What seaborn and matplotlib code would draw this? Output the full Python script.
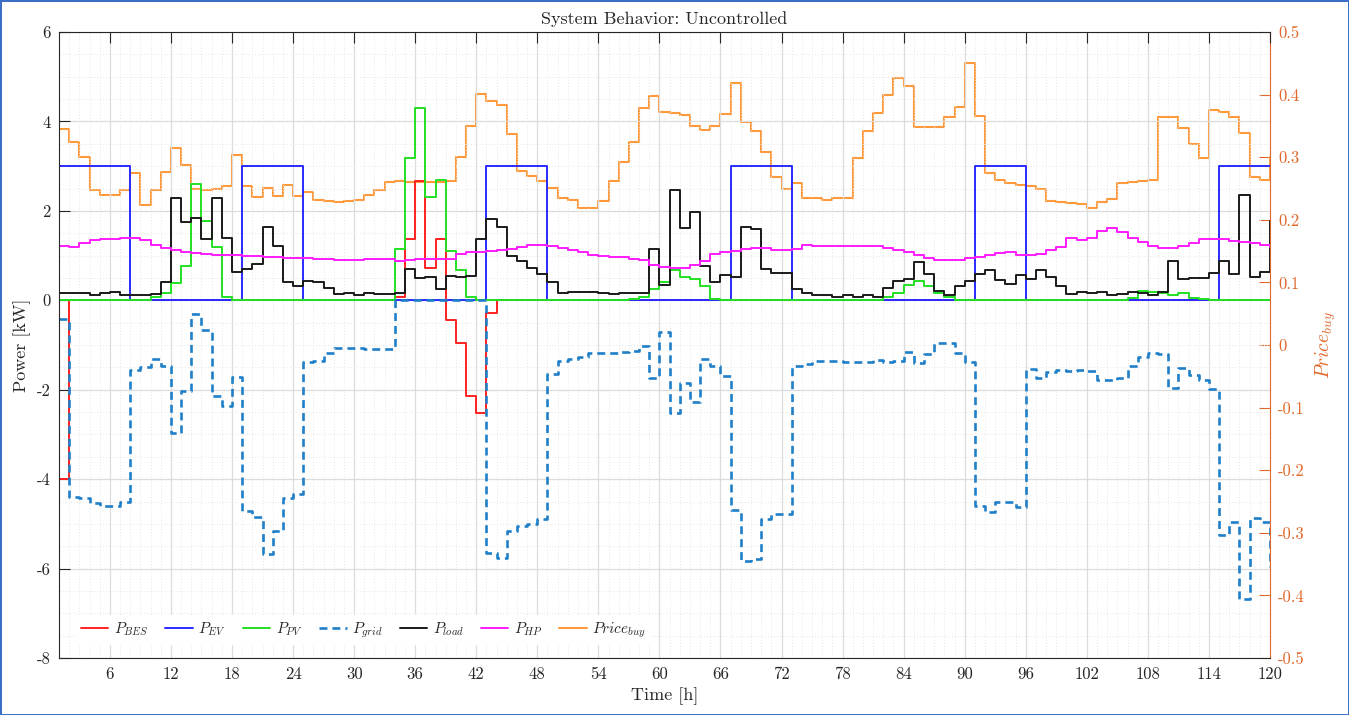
import matplotlib
matplotlib.use("Agg")
import matplotlib.pyplot as plt
import seaborn as sns
from matplotlib.ticker import MultipleLocator, FixedLocator
from matplotlib.lines import Line2D

# ---------------- data (hourly values, stairs) ----------------
hours = list(range(1, 121))

p_bes = [-4, 0, 0, 0, 0, 0, 0, 0, 0, 0,
         0, 0, 0, 0, 0, 0, 0, 0, 0, 0,
         0, 0, 0, 0, 0, 0, 0, 0, 0, 0,
         0, 0, 0, 0.08, 1.37, 2.66, 0.73, 1.37, -0.44, -0.95,
         -2.15, -2.52, -0.29, 0, 0, 0, 0, 0, 0, 0,
         0, 0, 0, 0, 0, 0, 0, 0, 0, 0,
         0, 0, 0, 0, 0, 0, 0, 0, 0, 0,
         0, 0, 0, 0, 0, 0, 0, 0, 0, 0,
         0, 0, 0, 0, 0, 0, 0, 0, 0, 0,
         0, 0, 0, 0, 0, 0, 0, 0, 0, 0,
         0, 0, 0, 0, 0, 0, 0, 0, 0, 0,
         0, 0, 0, 0, 0, 0, 0, 0, 0, 0]

p_ev = [3, 3, 3, 3, 3, 3, 3, 0, 0, 0,
        0, 0, 0, 0, 0, 0, 0, 0, 3, 3,
        3, 3, 3, 3, 0, 0, 0, 0, 0, 0,
        0, 0, 0, 0, 0, 0, 0, 0, 0, 0,
        0, 0, 3, 3, 3, 3, 3, 3, 0, 0,
        0, 0, 0, 0, 0, 0, 0, 0, 0, 0,
        0, 0, 0, 0, 0, 0, 3, 3, 3, 3,
        3, 3, 0, 0, 0, 0, 0, 0, 0, 0,
        0, 0, 0, 0, 0, 0, 0, 0, 0, 0,
        3, 3, 3, 3, 3, 0, 0, 0, 0, 0,
        0, 0, 0, 0, 0, 0, 0, 0, 0, 0,
        0, 0, 0, 0, 3, 3, 3, 3, 3, 3]

p_pv = [0, 0, 0, 0, 0, 0, 0, 0, 0, 0.08,
        0.16, 0.38, 0.77, 2.59, 1.77, 1.20, 0.08, 0, 0, 0,
        0, 0, 0, 0, 0, 0, 0, 0, 0, 0,
        0, 0, 0, 1.15, 3.19, 4.31, 2.30, 2.70, 1.11, 0.68,
        0.08, 0, 0, 0, 0, 0, 0, 0, 0, 0,
        0, 0, 0, 0, 0, 0, 0.03, 0.08, 0.25, 0.40,
        0.67, 0.52, 0.48, 0.33, 0.03, 0, 0, 0, 0, 0,
        0, 0, 0, 0, 0, 0, 0, 0, 0, 0,
        0, 0.08, 0.16, 0.35, 0.44, 0.32, 0.16, 0.08, 0.01, 0,
        0, 0, 0, 0, 0, 0, 0, 0, 0, 0,
        0, 0, 0, 0, 0, 0.06, 0.21, 0.18, 0.16, 0.11,
        0.17, 0.06, 0.02, 0, 0, 0, 0, 0, 0, 0]

p_grid = [-0.42, -4.40, -4.42, -4.53, -4.61, -4.61, -4.52, -1.55, -1.50, -1.31,
          -1.46, -2.97, -2.03, -0.31, -0.66, -2.14, -2.37, -1.71, -4.72, -4.84,
          -5.67, -5.17, -4.42, -4.33, -1.37, -1.35, -1.19, -1.06, -1.06, -1.06,
          -1.10, -1.10, -1.08, 0, 0, 0, 0, 0, 0, 0,
          0, 0, -5.66, -5.77, -5.17, -5.05, -5.00, -4.89, -1.65, -1.35,
          -1.31, -1.26, -1.17, -1.17, -1.17, -1.15, -1.13, -1.02, -1.73, -0.70,
          -2.53, -1.85, -2.27, -1.32, -1.47, -1.70, -4.69, -5.84, -5.79, -4.89,
          -4.79, -4.78, -1.47, -1.43, -1.35, -1.35, -1.35, -1.37, -1.37, -1.37,
          -1.34, -1.37, -1.36, -1.15, -1.41, -1.20, -0.95, -0.95, -1.17, -1.37,
          -4.59, -4.74, -4.52, -4.50, -4.63, -1.54, -1.73, -1.60, -1.56, -1.58,
          -1.56, -1.58, -1.79, -1.79, -1.73, -1.47, -1.26, -1.17, -1.21, -1.96,
          -1.52, -1.67, -1.79, -1.99, -5.26, -4.96, -6.68, -4.87, -4.96, -5.97]

p_load = [0.16, 0.17, 0.16, 0.12, 0.16, 0.18, 0.11, 0.12, 0.11, 0.14,
          0.40, 2.28, 1.74, 1.83, 1.36, 2.29, 1.39, 0.64, 0.70, 0.81,
          1.65, 1.21, 0.42, 0.32, 0.44, 0.42, 0.27, 0.14, 0.16, 0.12,
          0.16, 0.15, 0.14, 0.16, 0.70, 0.50, 0.53, 0.26, 0.55, 0.53,
          0.55, 1.36, 1.82, 1.64, 0.98, 0.88, 0.73, 0.59, 0.41, 0.16,
          0.18, 0.19, 0.19, 0.17, 0.15, 0.16, 0.17, 0.16, 1.15, 0.35,
          2.47, 1.62, 1.97, 0.76, 0.42, 0.56, 0.52, 1.65, 1.60, 0.70,
          0.62, 0.62, 0.25, 0.16, 0.11, 0.12, 0.08, 0.12, 0.08, 0.11,
          0.08, 0.27, 0.44, 0.47, 0.85, 0.59, 0.21, 0.12, 0.31, 0.44,
          0.59, 0.68, 0.46, 0.37, 0.56, 0.47, 0.67, 0.52, 0.31, 0.15,
          0.18, 0.16, 0.19, 0.12, 0.15, 0.19, 0.16, 0.12, 0.19, 0.87,
          0.47, 0.50, 0.50, 0.61, 0.88, 0.59, 2.35, 0.52, 0.64, 1.77]

p_hp = [1.22, 1.19, 1.27, 1.34, 1.37, 1.38, 1.39, 1.39, 1.34, 1.24,
        1.17, 1.13, 1.09, 1.06, 1.04, 1.02, 1.01, 1.01, 1.00, 0.98,
        0.97, 0.96, 0.95, 0.95, 0.94, 0.93, 0.92, 0.91, 0.91, 0.91,
        0.92, 0.92, 0.92, 0.88, 0.90, 0.92, 0.92, 0.92, 0.92, 1.03,
        1.08, 1.09, 1.10, 1.12, 1.15, 1.19, 1.24, 1.24, 1.21, 1.17,
        1.13, 1.07, 1.02, 0.98, 0.97, 0.96, 0.93, 0.91, 0.80, 0.74,
        0.73, 0.73, 0.78, 0.88, 1.04, 1.09, 1.10, 1.15, 1.17, 1.16,
        1.12, 1.12, 1.15, 1.24, 1.21, 1.21, 1.22, 1.22, 1.22, 1.22,
        1.21, 1.17, 1.13, 1.09, 1.02, 0.94, 0.89, 0.89, 0.91, 0.94,
        0.97, 1.01, 1.06, 1.07, 1.01, 1.02, 1.04, 1.12, 1.20, 1.39,
        1.34, 1.39, 1.54, 1.62, 1.52, 1.39, 1.30, 1.21, 1.16, 1.16,
        1.21, 1.28, 1.36, 1.36, 1.36, 1.33, 1.30, 1.28, 1.23, 1.20]

price_buy = [0.345, 0.324, 0.301, 0.248, 0.239, 0.240, 0.248, 0.275, 0.224, 0.247,
             0.276, 0.314, 0.287, 0.250, 0.248, 0.249, 0.254, 0.303, 0.254, 0.237,
             0.251, 0.238, 0.255, 0.238, 0.244, 0.232, 0.230, 0.228, 0.230, 0.231,
             0.239, 0.247, 0.261, 0.262, 0.261, 0.261, 0.260, 0.261, 0.262, 0.300,
             0.350, 0.401, 0.390, 0.383, 0.337, 0.278, 0.270, 0.262, 0.251, 0.235,
             0.231, 0.219, 0.219, 0.230, 0.262, 0.293, 0.325, 0.378, 0.398, 0.372,
             0.370, 0.367, 0.350, 0.343, 0.350, 0.369, 0.418, 0.356, 0.342, 0.308,
             0.269, 0.250, 0.258, 0.235, 0.235, 0.231, 0.235, 0.235, 0.298, 0.342,
             0.371, 0.400, 0.427, 0.414, 0.348, 0.348, 0.348, 0.365, 0.380, 0.450,
             0.366, 0.275, 0.263, 0.259, 0.256, 0.254, 0.250, 0.230, 0.228, 0.227,
             0.225, 0.219, 0.228, 0.233, 0.258, 0.261, 0.262, 0.263, 0.365, 0.365,
             0.346, 0.321, 0.298, 0.375, 0.373, 0.365, 0.339, 0.269, 0.264, 0.300]

x_ticks = [6, 12, 18, 24, 30, 36, 42, 48, 54, 60, 66, 72, 78, 84, 90, 96, 102, 108, 114, 120]
y_ticks = [-8, -6, -4, -2, 0, 2, 4, 6]
y2_ticks = [-0.5, -0.4, -0.3, -0.2, -0.1, 0, 0.1, 0.2, 0.3, 0.4, 0.5]
y2_labels = ["-0.5", "-0.4", "-0.3", "-0.2", "-0.1", "0", "0.1", "0.2", "0.3", "0.4", "0.5"]

series = [
    ("$P_{BES}$", p_bes, "#ff2020", "-"),
    ("$P_{EV}$", p_ev, "#2a2aff", "-"),
    ("$P_{PV}$", p_pv, "#22e022", "-"),
    ("$P_{grid}$", p_grid, "#1f7fc8", "--"),
    ("$P_{load}$", p_load, "#1a1a1a", "-"),
    ("$P_{HP}$", p_hp, "#ff1aff", "-"),
]
price_color = "#ff9a3c"
axis_orange = "#e0672a"

# ---------------- style ----------------
sns.set_theme(style="white")
plt.rcParams.update({
    "font.family": ["cmr10", "DejaVu Serif"],
    "mathtext.fontset": "cm",
    "axes.unicode_minus": False,
    "axes.formatter.use_mathtext": True,
    "font.size": 12,
})

fig = plt.figure(figsize=(13.49, 7.15), dpi=100)
fig.patch.set_facecolor("white")
fig.patch.set_edgecolor("#3d6fc6")
fig.patch.set_linewidth(2.0)

ax = fig.add_axes([59 / 1349, 57 / 715, (1270 - 59) / 1349, (658 - 32) / 715])
ax2 = ax.twinx()

# price on right axis (drawn underneath)
sns.lineplot(x=hours, y=price_buy, ax=ax2, color=price_color, lw=1.5,
             drawstyle="steps-post", estimator=None, legend=False)

for label, vals, col, ls in series:
    sns.lineplot(x=hours, y=vals, ax=ax, color=col, lw=1.4 if ls == "-" else 1.9,
                 drawstyle="steps-post", estimator=None, legend=False)
    if ls == "--":
        ax.lines[-1].set_dashes([3.0, 1.9])

ax.set_zorder(ax2.get_zorder() + 1)
ax.patch.set_visible(False)

# ---------------- axes ----------------
ax.set_xlim(1, 120)
ax.set_ylim(-8, 6)
ax2.set_ylim(-0.5, 0.5)

ax.xaxis.set_major_locator(FixedLocator(x_ticks))
ax.xaxis.set_minor_locator(MultipleLocator(1))
ax.yaxis.set_major_locator(FixedLocator(y_ticks))
ax.yaxis.set_minor_locator(MultipleLocator(0.5))
ax.set_xticklabels([str(v) for v in x_ticks])
ax.set_yticklabels([str(v) for v in y_ticks])

ax.grid(True, which="major", color="#dcdcdc", lw=0.9, ls="-")
ax.grid(True, which="minor", color="#e6e6e6", lw=0.7, ls=(0, (1, 2)))
ax.set_axisbelow(True)

dark = "#262626"
ax.tick_params(axis="both", which="major", direction="in", length=8, width=0.8,
               colors=dark, labelsize=12, top=True, right=False, pad=6)
ax.tick_params(axis="both", which="minor", length=0)
for side in ["left", "bottom", "top"]:
    ax.spines[side].set_color(dark)
    ax.spines[side].set_linewidth(0.8)
ax.spines["right"].set_visible(False)

ax2.yaxis.set_major_locator(FixedLocator(y2_ticks))
ax2.set_yticklabels(y2_labels)
ax2.tick_params(axis="y", which="major", direction="in", length=8, width=0.8,
                colors=axis_orange, labelsize=12, pad=6)
ax2.spines["right"].set_color(axis_orange)
ax2.spines["right"].set_linewidth(0.8)
for side in ["left", "bottom", "top"]:
    ax2.spines[side].set_visible(False)
ax2.grid(False)

ax.set_xlabel("Time [h]", fontsize=13, color=dark, labelpad=4)
ax.set_ylabel("Power [kW]", fontsize=13, color=dark, labelpad=4)
ax2.set_ylabel("$Price_{buy}$", fontsize=14, color=axis_orange, labelpad=6)
ax.set_title("System Behavior: Uncontrolled", fontsize=13, color=dark, pad=6)

# ---------------- legend ----------------
handles = []
for label, vals, col, ls in series:
    h = Line2D([], [], color=col, lw=1.4 if ls == "-" else 1.9, ls=ls, label=label)
    if ls == "--":
        h.set_dashes([3.0, 1.9])
    handles.append(h)
handles.append(Line2D([], [], color=price_color, lw=1.5, label="$Price_{buy}$"))
leg = ax.legend(handles=handles, loc="lower left", bbox_to_anchor=(0.008, 0.01),
                ncol=7, frameon=True, facecolor="white", edgecolor="white",
                framealpha=1.0, fontsize=11, handlelength=1.8, handletextpad=0.35,
                columnspacing=1.1, borderpad=0.3)

fig.savefig("out.png", dpi=100, facecolor=fig.get_facecolor(),
            edgecolor=fig.get_edgecolor())
